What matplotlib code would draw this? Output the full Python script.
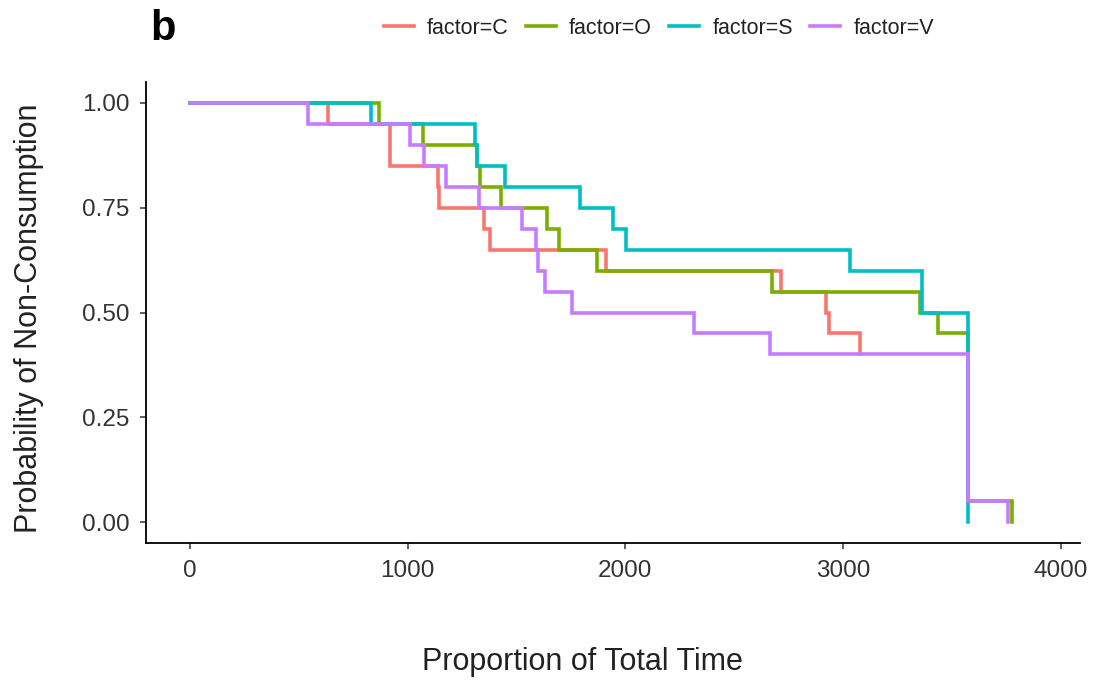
import matplotlib
matplotlib.use("Agg")
import matplotlib.pyplot as plt

plt.rcParams['font.family'] = ['Liberation Sans', 'DejaVu Sans']

# Kaplan-Meier step data (time of step, survival after step)
times_C = [0, 633, 920, 1137, 1146, 1352, 1376, 1911, 2713, 2920, 2935, 3077]
surv_C = [1.00, 0.95, 0.85, 0.80, 0.75, 0.70, 0.65, 0.60, 0.55, 0.50, 0.45, 0.40]

times_O = [0, 869, 1070, 1320, 1333, 1428, 1640, 1694, 1870, 2674, 3354, 3437, 3574, 3775]
surv_O = [1.00, 0.95, 0.90, 0.85, 0.80, 0.75, 0.70, 0.65, 0.60, 0.55, 0.50, 0.45, 0.05, 0.00]

times_S = [0, 831, 1310, 1318, 1448, 1790, 1941, 2002, 3031, 3362, 3574]
surv_S = [1.00, 0.95, 0.90, 0.85, 0.80, 0.75, 0.70, 0.65, 0.60, 0.50, 0.00]

times_V = [0, 544, 1011, 1077, 1178, 1327, 1525, 1591, 1600, 1632, 1755, 2315, 2664, 3574, 3755]
surv_V = [1.00, 0.95, 0.90, 0.85, 0.80, 0.75, 0.70, 0.65, 0.60, 0.55, 0.50, 0.45, 0.40, 0.05, 0.00]

labels = ["factor=C", "factor=O", "factor=S", "factor=V"]
colors = ["#F8766D", "#7CAE00", "#00BFC4", "#C77CFF"]
x_ticks = [0, 1000, 2000, 3000, 4000]
y_ticks = [0.00, 0.25, 0.50, 0.75, 1.00]
y_tick_labels = ["0.00", "0.25", "0.50", "0.75", "1.00"]

fig = plt.figure(figsize=(10.95, 6.8), dpi=100)
ax = fig.add_axes([146/1095, 1-543/680, (1080-146)/1095, (543-82)/680])

series = [(times_C, surv_C), (times_O, surv_O), (times_S, surv_S), (times_V, surv_V)]
for (t, s), lab, col in zip(series, labels, colors):
    ax.step(t, s, where='post', color=col, lw=2.6, label=lab, solid_joinstyle='miter')

ax.set_xlim(-202, 4088)
ax.set_ylim(-0.05, 1.05)
ax.set_xticks(x_ticks)
ax.set_yticks(y_ticks)
ax.set_yticklabels(y_tick_labels)
for sp in ['top', 'right']:
    ax.spines[sp].set_visible(False)
for sp in ['left', 'bottom']:
    ax.spines[sp].set_linewidth(1.3)
    ax.spines[sp].set_color('black')
ax.tick_params(axis='both', length=4, width=1.1, color='#333333',
               labelsize=17.5, labelcolor='#333333', pad=8)
ax.tick_params(axis='x', pad=8)

fig.text(582/1095, 1-662/680, "Proportion of Total Time", fontsize=22, color='#222222',
         ha='center', va='center')
fig.text(29/1095, 1-318/680, "Probability of Non-Consumption", fontsize=22, color='#222222',
         ha='center', va='center', rotation=90)

fig.text(150/1095, 1-29/680, "b", fontsize=30, fontweight='bold', va='center', ha='left')

leg = fig.legend(loc='center', bbox_to_anchor=(659/1095, 1-28/680), ncol=4, frameon=False,
                 fontsize=15.5, handlelength=1.4, handletextpad=0.6, columnspacing=0.8)
for line in leg.get_lines():
    line.set_linewidth(2.6)
for txt in leg.get_texts():
    txt.set_color('#222222')

fig.savefig("out.png", dpi=100)
